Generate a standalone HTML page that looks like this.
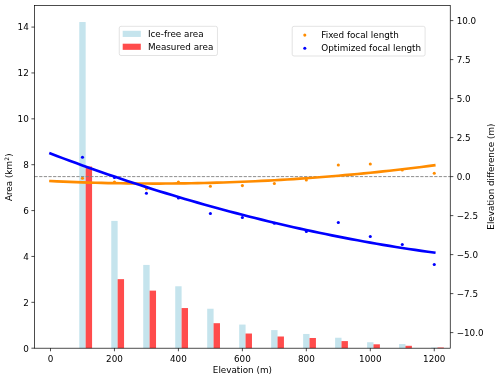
<!DOCTYPE html>
<html><head><meta charset="utf-8"><title>Area and elevation difference by elevation</title>
<style>html,body{margin:0;padding:0;background:#fff}svg{display:block}text{font-family:"DejaVu Sans","Liberation Sans",sans-serif;font-size:8.8px;fill:#000}</style>
</head><body>
<svg width="500" height="380" viewBox="0 0 500 380">
<rect width="500" height="380" fill="#fff"/>
<g id="bars">
<rect x="79.27" y="22.03" width="6.40" height="326.17" fill="#ADD8E6" fill-opacity="0.7"/>
<rect x="85.67" y="166.54" width="6.40" height="181.66" fill="#FF0000" fill-opacity="0.7"/>
<rect x="111.25" y="220.90" width="6.40" height="127.30" fill="#ADD8E6" fill-opacity="0.7"/>
<rect x="117.65" y="279.16" width="6.40" height="69.04" fill="#FF0000" fill-opacity="0.7"/>
<rect x="143.23" y="264.94" width="6.40" height="83.26" fill="#ADD8E6" fill-opacity="0.7"/>
<rect x="149.63" y="290.63" width="6.40" height="57.57" fill="#FF0000" fill-opacity="0.7"/>
<rect x="175.22" y="286.27" width="6.40" height="61.93" fill="#ADD8E6" fill-opacity="0.7"/>
<rect x="181.61" y="308.06" width="6.40" height="40.14" fill="#FF0000" fill-opacity="0.7"/>
<rect x="207.20" y="308.75" width="6.40" height="39.45" fill="#ADD8E6" fill-opacity="0.7"/>
<rect x="213.59" y="323.20" width="6.40" height="25.00" fill="#FF0000" fill-opacity="0.7"/>
<rect x="239.18" y="324.57" width="6.40" height="23.63" fill="#ADD8E6" fill-opacity="0.7"/>
<rect x="245.57" y="333.52" width="6.40" height="14.68" fill="#FF0000" fill-opacity="0.7"/>
<rect x="271.16" y="330.08" width="6.40" height="18.12" fill="#ADD8E6" fill-opacity="0.7"/>
<rect x="277.55" y="336.50" width="6.40" height="11.70" fill="#FF0000" fill-opacity="0.7"/>
<rect x="303.14" y="333.98" width="6.40" height="14.22" fill="#ADD8E6" fill-opacity="0.7"/>
<rect x="309.53" y="337.99" width="6.40" height="10.21" fill="#FF0000" fill-opacity="0.7"/>
<rect x="335.12" y="337.74" width="6.40" height="10.46" fill="#ADD8E6" fill-opacity="0.7"/>
<rect x="341.52" y="341.09" width="6.40" height="7.11" fill="#FF0000" fill-opacity="0.7"/>
<rect x="367.10" y="342.24" width="6.40" height="5.96" fill="#ADD8E6" fill-opacity="0.7"/>
<rect x="373.50" y="344.30" width="6.40" height="3.90" fill="#FF0000" fill-opacity="0.7"/>
<rect x="399.08" y="344.07" width="6.40" height="4.13" fill="#ADD8E6" fill-opacity="0.7"/>
<rect x="405.48" y="345.79" width="6.40" height="2.41" fill="#FF0000" fill-opacity="0.7"/>
<rect x="431.06" y="347.51" width="6.40" height="0.69" fill="#ADD8E6" fill-opacity="0.7"/>
<rect x="437.46" y="347.51" width="6.40" height="0.69" fill="#FF0000" fill-opacity="0.7"/>
</g>
<g id="dots">
<circle cx="82.47" cy="178.25" r="1.55" fill="#FF8C00"/>
<circle cx="114.45" cy="182.00" r="1.55" fill="#FF8C00"/>
<circle cx="146.43" cy="188.75" r="1.55" fill="#FF8C00"/>
<circle cx="178.41" cy="182.00" r="1.55" fill="#FF8C00"/>
<circle cx="210.39" cy="186.25" r="1.55" fill="#FF8C00"/>
<circle cx="242.38" cy="185.60" r="1.55" fill="#FF8C00"/>
<circle cx="274.36" cy="183.50" r="1.55" fill="#FF8C00"/>
<circle cx="306.34" cy="180.00" r="1.55" fill="#FF8C00"/>
<circle cx="338.32" cy="165.00" r="1.55" fill="#FF8C00"/>
<circle cx="370.30" cy="164.00" r="1.55" fill="#FF8C00"/>
<circle cx="402.28" cy="170.00" r="1.55" fill="#FF8C00"/>
<circle cx="434.26" cy="173.25" r="1.55" fill="#FF8C00"/>
<circle cx="82.47" cy="157.25" r="1.55" fill="#0000FF"/>
<circle cx="114.45" cy="177.50" r="1.55" fill="#0000FF"/>
<circle cx="146.43" cy="193.25" r="1.55" fill="#0000FF"/>
<circle cx="178.41" cy="198.00" r="1.55" fill="#0000FF"/>
<circle cx="210.39" cy="213.50" r="1.55" fill="#0000FF"/>
<circle cx="242.38" cy="217.50" r="1.55" fill="#0000FF"/>
<circle cx="274.36" cy="223.25" r="1.55" fill="#0000FF"/>
<circle cx="306.34" cy="231.50" r="1.55" fill="#0000FF"/>
<circle cx="338.32" cy="222.50" r="1.55" fill="#0000FF"/>
<circle cx="370.30" cy="236.50" r="1.55" fill="#0000FF"/>
<circle cx="402.28" cy="244.50" r="1.55" fill="#0000FF"/>
<circle cx="434.26" cy="264.50" r="1.55" fill="#0000FF"/>
</g>
<line x1="34.5" x2="450.25" y1="176.60" y2="176.60" stroke="#808080" stroke-width="0.88" stroke-dasharray="3.245 1.403"/>
<polyline points="50.49,181.04 56.89,181.34 63.28,181.62 69.68,181.89 76.08,182.13 82.47,182.35 88.87,182.56 95.26,182.74 101.66,182.91 108.06,183.06 114.45,183.19 120.85,183.30 127.24,183.39 133.64,183.46 140.04,183.51 146.43,183.55 152.83,183.56 159.22,183.56 165.62,183.53 172.02,183.49 178.41,183.43 184.81,183.35 191.21,183.25 197.60,183.13 204.00,182.99 210.39,182.84 216.79,182.66 223.19,182.47 229.58,182.25 235.98,182.02 242.38,181.77 248.77,181.50 255.17,181.21 261.56,180.90 267.96,180.57 274.36,180.22 280.75,179.86 287.15,179.47 293.54,179.07 299.94,178.64 306.34,178.20 312.73,177.74 319.13,177.26 325.52,176.76 331.92,176.24 338.32,175.70 344.71,175.14 351.11,174.57 357.51,173.97 363.90,173.36 370.30,172.73 376.69,172.07 383.09,171.40 389.49,170.71 395.88,170.00 402.28,169.28 408.68,168.53 415.07,167.76 421.47,166.98 427.86,166.17 434.26,165.35" fill="none" stroke="#FF8C00" stroke-width="2.64" stroke-linecap="square" stroke-linejoin="round"/>
<polyline points="50.49,153.56 56.89,155.98 63.28,158.38 69.68,160.74 76.08,163.08 82.47,165.40 88.87,167.69 95.26,169.95 101.66,172.19 108.06,174.40 114.45,176.58 120.85,178.74 127.24,180.88 133.64,182.98 140.04,185.06 146.43,187.12 152.83,189.15 159.22,191.15 165.62,193.13 172.02,195.08 178.41,197.00 184.81,198.90 191.21,200.77 197.60,202.62 204.00,204.44 210.39,206.23 216.79,208.00 223.19,209.74 229.58,211.46 235.98,213.15 242.38,214.81 248.77,216.45 255.17,218.06 261.56,219.65 267.96,221.21 274.36,222.74 280.75,224.25 287.15,225.73 293.54,227.19 299.94,228.62 306.34,230.02 312.73,231.40 319.13,232.75 325.52,234.07 331.92,235.37 338.32,236.65 344.71,237.89 351.11,239.12 357.51,240.31 363.90,241.48 370.30,242.62 376.69,243.74 383.09,244.83 389.49,245.90 395.88,246.93 402.28,247.95 408.68,248.93 415.07,249.89 421.47,250.83 427.86,251.74 434.26,252.62" fill="none" stroke="#0000FF" stroke-width="2.64" stroke-linecap="square" stroke-linejoin="round"/>
<rect x="34.5" y="5.5" width="415.75" height="342.7" fill="none" stroke="#000" stroke-width="0.7"/>
<g stroke="#000" stroke-width="0.7">
<line x1="50.49" x2="50.49" y1="348.2" y2="351.28"/>
<line x1="114.45" x2="114.45" y1="348.2" y2="351.28"/>
<line x1="178.41" x2="178.41" y1="348.2" y2="351.28"/>
<line x1="242.38" x2="242.38" y1="348.2" y2="351.28"/>
<line x1="306.34" x2="306.34" y1="348.2" y2="351.28"/>
<line x1="370.30" x2="370.30" y1="348.2" y2="351.28"/>
<line x1="434.26" x2="434.26" y1="348.2" y2="351.28"/>
<line x1="31.42" x2="34.5" y1="348.20" y2="348.20"/>
<line x1="31.42" x2="34.5" y1="302.33" y2="302.33"/>
<line x1="31.42" x2="34.5" y1="256.45" y2="256.45"/>
<line x1="31.42" x2="34.5" y1="210.58" y2="210.58"/>
<line x1="31.42" x2="34.5" y1="164.70" y2="164.70"/>
<line x1="31.42" x2="34.5" y1="118.83" y2="118.83"/>
<line x1="31.42" x2="34.5" y1="72.95" y2="72.95"/>
<line x1="31.42" x2="34.5" y1="27.08" y2="27.08"/>
<line x1="450.25" x2="453.33" y1="332.60" y2="332.60"/>
<line x1="450.25" x2="453.33" y1="293.60" y2="293.60"/>
<line x1="450.25" x2="453.33" y1="254.60" y2="254.60"/>
<line x1="450.25" x2="453.33" y1="215.60" y2="215.60"/>
<line x1="450.25" x2="453.33" y1="176.60" y2="176.60"/>
<line x1="450.25" x2="453.33" y1="137.60" y2="137.60"/>
<line x1="450.25" x2="453.33" y1="98.60" y2="98.60"/>
<line x1="450.25" x2="453.33" y1="59.60" y2="59.60"/>
<line x1="450.25" x2="453.33" y1="20.60" y2="20.60"/>
</g>
<text x="50.49" y="361.5" text-anchor="middle">0</text>
<text x="114.45" y="361.5" text-anchor="middle">200</text>
<text x="178.41" y="361.5" text-anchor="middle">400</text>
<text x="242.38" y="361.5" text-anchor="middle">600</text>
<text x="306.34" y="361.5" text-anchor="middle">800</text>
<text x="370.30" y="361.5" text-anchor="middle">1000</text>
<text x="434.26" y="361.5" text-anchor="middle">1200</text>
<text x="28.82" y="351.50" text-anchor="end">0</text>
<text x="28.82" y="305.63" text-anchor="end">2</text>
<text x="28.82" y="259.75" text-anchor="end">4</text>
<text x="28.82" y="213.88" text-anchor="end">6</text>
<text x="28.82" y="168.00" text-anchor="end">8</text>
<text x="28.82" y="122.13" text-anchor="end">10</text>
<text x="28.82" y="76.25" text-anchor="end">12</text>
<text x="28.82" y="30.38" text-anchor="end">14</text>
<text x="456.63" y="335.90">−10.0</text>
<text x="456.63" y="296.90">−7.5</text>
<text x="456.63" y="257.90">−5.0</text>
<text x="456.63" y="218.90">−2.5</text>
<text x="456.63" y="179.90">0.0</text>
<text x="456.63" y="140.90">2.5</text>
<text x="456.63" y="101.90">5.0</text>
<text x="456.63" y="62.90">7.5</text>
<text x="456.63" y="23.90">10.0</text>
<text x="242.38" y="373.2" text-anchor="middle">Elevation (m)</text>
<text transform="translate(12.3,201.1) rotate(-90)">Area (km<tspan font-size="6" dx="0.2" dy="-3.3">2</tspan><tspan dx="0.3" dy="3.3">)</tspan></text>
<text transform="translate(493.5,176.60) rotate(-90)" text-anchor="middle">Elevation difference (m)</text>
<g id="legend1"><rect x="119.25" y="26.3" width="98.2" height="29.2" rx="1.8" fill="#fff" fill-opacity="0.8" stroke="#ccc" stroke-opacity="0.8" stroke-width="0.7"/>
<rect x="122.7" y="30.8" width="18.1" height="6.15" fill="#ADD8E6" fill-opacity="0.7"/><rect x="122.7" y="43.7" width="18.1" height="6.15" fill="#FF0000" fill-opacity="0.7"/>
<text x="147.9" y="36.95">Ice-free area</text><text x="147.9" y="49.9">Measured area</text></g>
<g id="legend2"><rect x="292.2" y="26.3" width="132.9" height="29.7" rx="1.8" fill="#fff" fill-opacity="0.8" stroke="#ccc" stroke-opacity="0.8" stroke-width="0.7"/>
<circle cx="304.8" cy="35.1" r="1.55" fill="#FF8C00"/><circle cx="304.8" cy="48.3" r="1.55" fill="#0000FF"/>
<text x="321.3" y="37.6">Fixed focal length</text><text x="321.3" y="50.6">Optimized focal length</text></g>
</svg></body></html>
